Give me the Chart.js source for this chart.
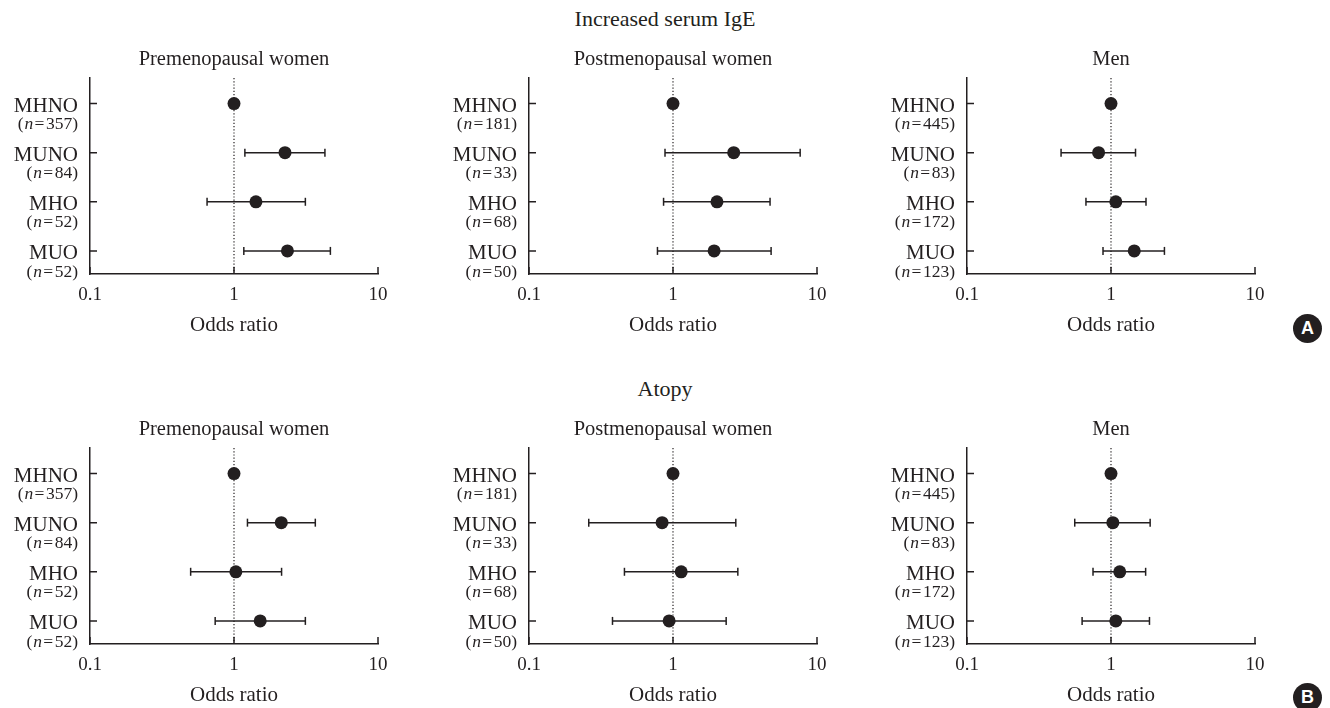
<!DOCTYPE html>
<html>
<head>
<meta charset="utf-8">
<script src="https://cdn.jsdelivr.net/npm/chart.js@4.4.0/dist/chart.umd.min.js"></script>
<style>
  body { margin: 0; width: 1330px; height: 708px; background: #fff; position: relative; overflow: hidden;
         font-family: "Liberation Serif", "Times New Roman", serif; color: #231f20; }
  canvas { position: absolute; }
  .head { position: absolute; width: 400px; text-align: center; font-size: 22px; line-height: 22px; }
  .badge { position: absolute; width: 29px; height: 29px; border-radius: 50%; background: #231f20; color: #fff;
           font: bold 18px "Liberation Sans", Arial, sans-serif; text-align: center; line-height: 29px; }
</style>
</head>
<body>
<div class="head" style="left:465px; top:8px;">Increased serum IgE</div>
<div class="head" style="left:465px; top:378px;">Atopy</div>
<div class="badge" style="left:1293px; top:314px;">A</div>
<div class="badge" style="left:1293px; top:683px;">B</div>

<canvas id="c1" width="440" height="300" style="left:0px; top:40px;"></canvas>
<canvas id="c2" width="440" height="300" style="left:439px; top:40px;"></canvas>
<canvas id="c3" width="440" height="300" style="left:877px; top:40px;"></canvas>
<canvas id="c4" width="440" height="300" style="left:0px; top:410px;"></canvas>
<canvas id="c5" width="440" height="300" style="left:439px; top:410px;"></canvas>
<canvas id="c6" width="440" height="300" style="left:877px; top:410px;"></canvas>

<script>
const groups = ['MHNO', 'MUNO', 'MHO', 'MUO'];
const nPre = [357, 84, 52, 52];
const nPost = [181, 33, 68, 50];
const nMen = [445, 83, 172, 123];
const xTicks = [0.1, 1, 10];

// Increased serum IgE: odds ratio with 95% CI
const igePreOR = [1, 2.26, 1.42, 2.35];
const igePreLo = [null, 1.19, 0.65, 1.17];
const igePreHi = [null, 4.28, 3.13, 4.67];
const igePostOR = [1, 2.64, 2.02, 1.93];
const igePostLo = [null, 0.88, 0.86, 0.78];
const igePostHi = [null, 7.64, 4.72, 4.80];
const igeMenOR = [1, 0.82, 1.08, 1.45];
const igeMenLo = [null, 0.45, 0.67, 0.88];
const igeMenHi = [null, 1.48, 1.75, 2.35];

// Atopy
const atoPreOR = [1, 2.13, 1.03, 1.52];
const atoPreLo = [null, 1.24, 0.50, 0.74];
const atoPreHi = [null, 3.67, 2.14, 3.13];
const atoPostOR = [1, 0.84, 1.14, 0.94];
const atoPostLo = [null, 0.26, 0.46, 0.38];
const atoPostHi = [null, 2.73, 2.82, 2.34];
const atoMenOR = [1, 1.03, 1.15, 1.08];
const atoMenLo = [null, 0.56, 0.75, 0.63];
const atoMenHi = [null, 1.87, 1.74, 1.85];

const ink = '#231f20';
const serif = '"Liberation Serif", "Times New Roman", serif';

const panels = [
  { id: 'c1', title: 'Premenopausal women', n: nPre, or: igePreOR, lo: igePreLo, hi: igePreHi },
  { id: 'c2', title: 'Postmenopausal women', n: nPost, or: igePostOR, lo: igePostLo, hi: igePostHi },
  { id: 'c3', title: 'Men', n: nMen, or: igeMenOR, lo: igeMenLo, hi: igeMenHi },
  { id: 'c4', title: 'Premenopausal women', n: nPre, or: atoPreOR, lo: atoPreLo, hi: atoPreHi },
  { id: 'c5', title: 'Postmenopausal women', n: nPost, or: atoPostOR, lo: atoPostLo, hi: atoPostHi },
  { id: 'c6', title: 'Men', n: nMen, or: atoMenOR, lo: atoMenLo, hi: atoMenHi }
];

// reference line at 1, inward ticks, row labels and panel title
const decor = {
  id: 'decor',
  beforeDatasetsDraw(chart) {
    const { ctx, chartArea: a, scales: { x, y } } = chart;
    const x1 = x.getPixelForValue(1);
    ctx.save();
    ctx.strokeStyle = ink;
    ctx.lineWidth = 1.2;
    ctx.setLineDash([1.2, 2]);
    ctx.beginPath();
    ctx.moveTo(x1, a.top);
    ctx.lineTo(x1, a.bottom);
    ctx.stroke();
    ctx.setLineDash([]);
    ctx.lineWidth = 1.5;
    ctx.beginPath();
    groups.forEach((g, i) => {
      const py = y.getPixelForValue(i + 1);
      ctx.moveTo(a.left, py);
      ctx.lineTo(a.left + 7, py);
    });
    xTicks.forEach(v => {
      const px = x.getPixelForValue(v);
      ctx.moveTo(px, a.bottom);
      ctx.lineTo(px, a.bottom - 7);
    });
    ctx.stroke();
    ctx.restore();
  },
  afterDraw(chart) {
    const { ctx, chartArea: a, scales: { y } } = chart;
    const p = chart.options.plugins.decor;
    ctx.save();
    ctx.fillStyle = ink;
    ctx.textBaseline = 'alphabetic';
    ctx.textAlign = 'center';
    ctx.font = '20.5px ' + serif;
    ctx.fillText(p.title, (a.left + a.right) / 2, a.top - 13);
    const rx = a.left - 12;
    groups.forEach((g, i) => {
      const py = y.getPixelForValue(i + 1);
      ctx.textAlign = 'right';
      ctx.font = '21px ' + serif;
      ctx.fillText(g, rx, py + 8.3);
      // "(n=357)" with italic n
      const tail = '\u200a=\u200a' + p.n[i] + ')';
      ctx.font = '17.5px ' + serif;
      const wTail = ctx.measureText(tail).width;
      ctx.fillText(tail, rx, py + 25.6);
      ctx.font = 'italic 17.5px ' + serif;
      const wN = ctx.measureText('n').width;
      ctx.fillText('n', rx - wTail, py + 25.6);
      ctx.font = '17.5px ' + serif;
      ctx.fillText('(', rx - wTail - wN - 0.8, py + 25.6);
    });
    ctx.restore();
  }
};

function makeChart(p) {
  const ctx = document.getElementById(p.id).getContext('2d');
  const datasets = [{
    data: p.or.map((v, i) => ({ x: v, y: i + 1 })),
    showLine: false,
    pointRadius: 6.5,
    pointBackgroundColor: ink,
    pointBorderColor: ink,
    pointBorderWidth: 0
  }];
  p.lo.forEach((lo, i) => {
    if (lo == null) return;
    datasets.push({
      data: [{ x: lo, y: i + 1 }, { x: p.hi[i], y: i + 1 }],
      showLine: true,
      borderColor: ink,
      borderWidth: 1.5,
      pointStyle: 'line',
      rotation: 90,
      pointRadius: 4,
      pointBorderColor: ink,
      pointBorderWidth: 1.5
    });
  });

  new Chart(ctx, {
    type: 'scatter',
    data: { datasets: datasets },
    options: {
      responsive: false,
      animation: false,
      events: [],
      layout: { padding: { top: 38, right: 62, left: 0, bottom: 0 } },
      plugins: {
        legend: { display: false },
        tooltip: { enabled: false },
        decor: { title: p.title, n: p.n }
      },
      scales: {
        x: {
          type: 'logarithmic',
          min: 0.1,
          max: 10,
          grid: { display: false },
          border: { color: ink, width: 1.5 },
          afterBuildTicks: s => { s.ticks = xTicks.map(v => ({ value: v })); },
          afterFit: s => { s.height = 66; },
          ticks: {
            color: ink,
            font: { family: serif, size: 19 },
            padding: 2,
            maxRotation: 0,
            autoSkip: false,
            callback: v => String(v)
          },
          title: {
            display: true,
            text: 'Odds ratio',
            color: ink,
            font: { family: serif, size: 21 },
            padding: { top: 0, bottom: 2 }
          }
        },
        y: {
          type: 'linear',
          min: 0.48,
          max: 4.47,
          reverse: true,
          grid: { display: false },
          border: { color: ink, width: 1.5 },
          ticks: { display: false },
          afterFit: s => { s.width = 90; }
        }
      }
    },
    plugins: [decor]
  });
}

panels.forEach(makeChart);
</script>
</body>
</html>
